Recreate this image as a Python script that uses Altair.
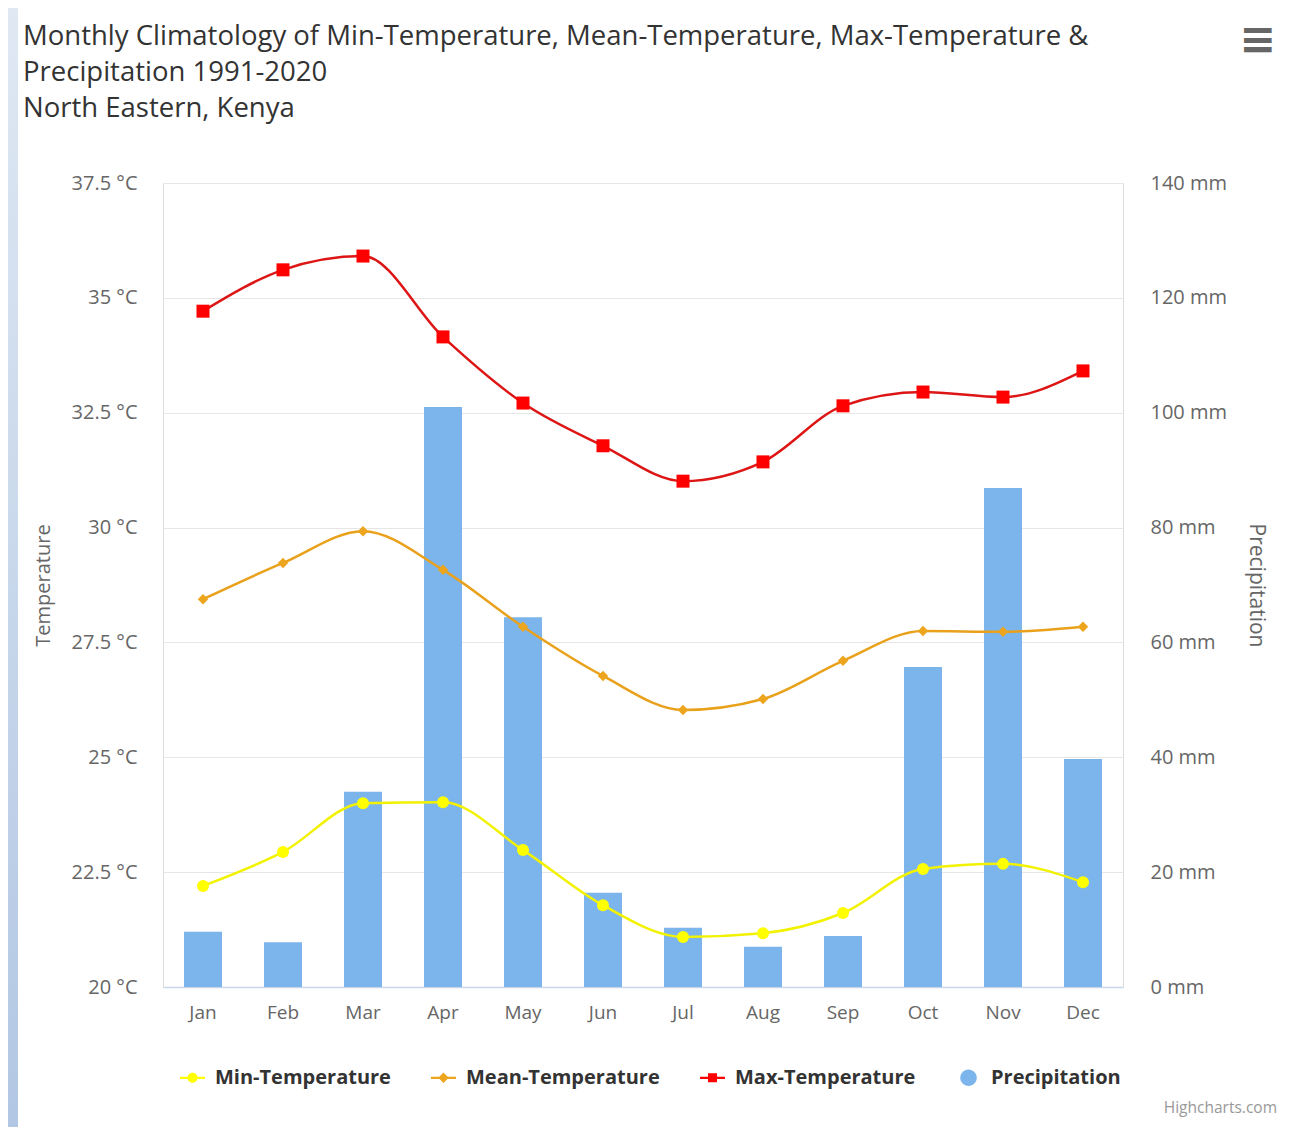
import altair as alt
import pandas as pd

# ---------------- data ----------------
months = ["Jan", "Feb", "Mar", "Apr", "May", "Jun", "Jul", "Aug", "Sep", "Oct", "Nov", "Dec"]
min_temp = [22.20, 22.94, 24.00, 24.02, 22.98, 21.78, 21.09, 21.17, 21.61, 22.57, 22.68, 22.28]
mean_temp = [28.44, 29.23, 29.92, 29.08, 27.84, 26.77, 26.03, 26.27, 27.10, 27.75, 27.73, 27.84]
max_temp = [34.71, 35.61, 35.91, 34.15, 32.71, 31.78, 31.01, 31.43, 32.65, 32.95, 32.84, 33.41]
precip = [9.6, 7.8, 34.0, 101.0, 64.4, 16.4, 10.3, 7.0, 8.9, 55.7, 86.9, 39.7]

temp_ticks = [20, 22.5, 25, 27.5, 30, 32.5, 35, 37.5]
precip_ticks = [0, 20, 40, 60, 80, 100, 120, 140]

series_names = ["Min-Temperature", "Mean-Temperature", "Max-Temperature", "Precipitation"]
series_colors = ["#ffff00", "#eda51d", "#ff0000", "#7cb5ec"]
line_colors = ["#f2f200", "#e9a11b", "#dd1515"]
marker_shapes = ["circle", "diamond", "square"]
marker_sizes = [144, 110, 169]

title_lines = [
    "Monthly Climatology of Min-Temperature, Mean-Temperature, Max-Temperature &",
    "Precipitation 1991-2020",
    "North Eastern, Kenya",
]

FONT = "Open Sans"

temp_df = pd.DataFrame({
    "month": months * 3,
    "series": [series_names[0]] * 12 + [series_names[1]] * 12 + [series_names[2]] * 12,
    "value": min_temp + mean_temp + max_temp,
})
precip_df = pd.DataFrame({"month": months, "precip": precip})

# ---------------- shared encodings ----------------
x_enc = alt.X(
    "month:N",
    sort=months,
    scale=alt.Scale(domain=months, paddingInner=0.525, paddingOuter=0.2625),
    axis=alt.Axis(
        title=None, labelAngle=0, labelFont=FONT, labelFontSize=19, labelColor="#666666",
        labelPadding=16, ticks=False, tickSize=0, domainColor="#ccd6eb", domainWidth=1.5,
        grid=False,
    ),
)

temp_y = alt.Y(
    "value:Q",
    scale=alt.Scale(domain=[20, 37.5], nice=False, zero=False),
    axis=alt.Axis(
        orient="left", values=temp_ticks, labelExpr="datum.value + ' °C'",
        title="Temperature", titleFont=FONT, titleFontSize=20, titleFontWeight="normal",
        titleColor="#666666", titleAngle=-90, titleX=-120, titleBaseline="middle",
        labelFont=FONT, labelFontSize=20, labelColor="#666666", labelPadding=26,
        ticks=False, tickSize=0, domain=False, grid=True, gridColor="#e6e6e6", gridWidth=1,
    ),
)

bars = alt.Chart(precip_df).mark_bar(color="#7cb5ec", opacity=1).encode(
    x=x_enc,
    y=alt.Y(
        "precip:Q",
        scale=alt.Scale(domain=[0, 140], nice=False),
        axis=alt.Axis(
            orient="right", values=precip_ticks, labelExpr="datum.value + ' mm'",
            title="Precipitation", titleFont=FONT, titleFontSize=21, titleFontWeight="normal",
            titleColor="#666666", titleAngle=90, titleX=132, titleBaseline="middle",
            labelFont=FONT, labelFontSize=20, labelColor="#666666", labelPadding=27,
            ticks=False, tickSize=0, domain=False, grid=False,
        ),
    ),
)

temp_layers = []
for i in range(3):
    base = alt.Chart(temp_df).transform_filter(alt.datum.series == series_names[i])
    temp_layers.append(
        base.mark_line(interpolate="monotone", strokeWidth=2.5, color=line_colors[i], opacity=1)
        .encode(x=x_enc, y=temp_y)
    )
for i in range(3):
    base = alt.Chart(temp_df).transform_filter(alt.datum.series == series_names[i])
    temp_layers.append(
        base.mark_point(filled=True, shape=marker_shapes[i], size=marker_sizes[i],
                        color=series_colors[i], opacity=1, strokeWidth=0)
        .encode(x=x_enc, y=temp_y)
    )

# legend symbols (line + marker, Highcharts style)
legend_paths = [
    "M-1,-0.09H1V0.09H-1Z M0.4,0A0.4,0.4,0,1,1,-0.4,0A0.4,0.4,0,1,1,0.4,0Z",
    "M-1,-0.09H1V0.09H-1Z M0,-0.42L0.42,0L0,0.42L-0.42,0Z",
    "M-1,-0.09H1V0.09H-1Z M-0.36,-0.36H0.36V0.36H-0.36Z",
    "M0.66,0A0.66,0.66,0,1,1,-0.66,0A0.66,0.66,0,1,1,0.66,0Z",
]
legend_def = alt.Legend(
    title=None, orient="none", legendX=17, legendY=882, direction="horizontal",
    symbolSize=625, symbolStrokeWidth=0, labelFont=FONT, labelFontSize=20,
    labelFontWeight="bold", labelColor="#333333", labelOffset=10, columnPadding=40,
    labelLimit=400,
)
legend_layer = (
    alt.Chart(pd.DataFrame({"series": series_names}))
    .transform_filter("false")
    .mark_point(filled=True, opacity=1)
    .encode(
        color=alt.Color("series:N", scale=alt.Scale(domain=series_names, range=series_colors),
                        legend=legend_def),
        shape=alt.Shape("series:N", scale=alt.Scale(domain=series_names, range=legend_paths),
                        legend=legend_def),
    )
)
temp_layers.append(legend_layer)

temp_chart = alt.layer(*temp_layers)

one = pd.DataFrame({"k": [0]})
credit = alt.Chart(one).mark_text(
    text="Highcharts.com", font=FONT, fontSize=15.5, color="#999999", align="right", baseline="middle"
).encode(x=alt.value(1114), y=alt.value(925))

menu = alt.Chart(one).mark_text(
    text="≡", font="DejaVu Sans", fontSize=44, fontWeight="bold", color="#666666",
    align="center", baseline="middle"
).encode(x=alt.value(1095), y=alt.value(-142))

strip = alt.Chart(one).mark_rect(
    color=alt.Gradient(
        gradient="linear",
        stops=[alt.GradientStop(color="#dfe8f3", offset=0), alt.GradientStop(color="#b2c7e3", offset=1)],
        x1=0, x2=0, y1=0, y2=1,
    )
).encode(x=alt.value(-155), x2=alt.value(-145), y=alt.value(-175), y2=alt.value(944))

chart = (
    alt.layer(strip, bars, temp_chart, credit, menu)
    .resolve_scale(y="independent")
    .properties(
        width=960,
        height=804,
        padding={"left": 155, "top": 175, "right": 160, "bottom": 140},
        autosize=alt.AutoSizeParams(type="none"),
        title=alt.TitleParams(
            text=title_lines, anchor="start", frame="group", dx=-140, dy=114, fontSize=27.5,
            font=FONT, fontWeight="normal", color="#333333", lineHeight=36, offset=0,
        ),
    )
    .configure_view(strokeWidth=0)
    .configure(background="white")
)

chart.save("out.html", embed_options={"renderer": "svg", "actions": False})
